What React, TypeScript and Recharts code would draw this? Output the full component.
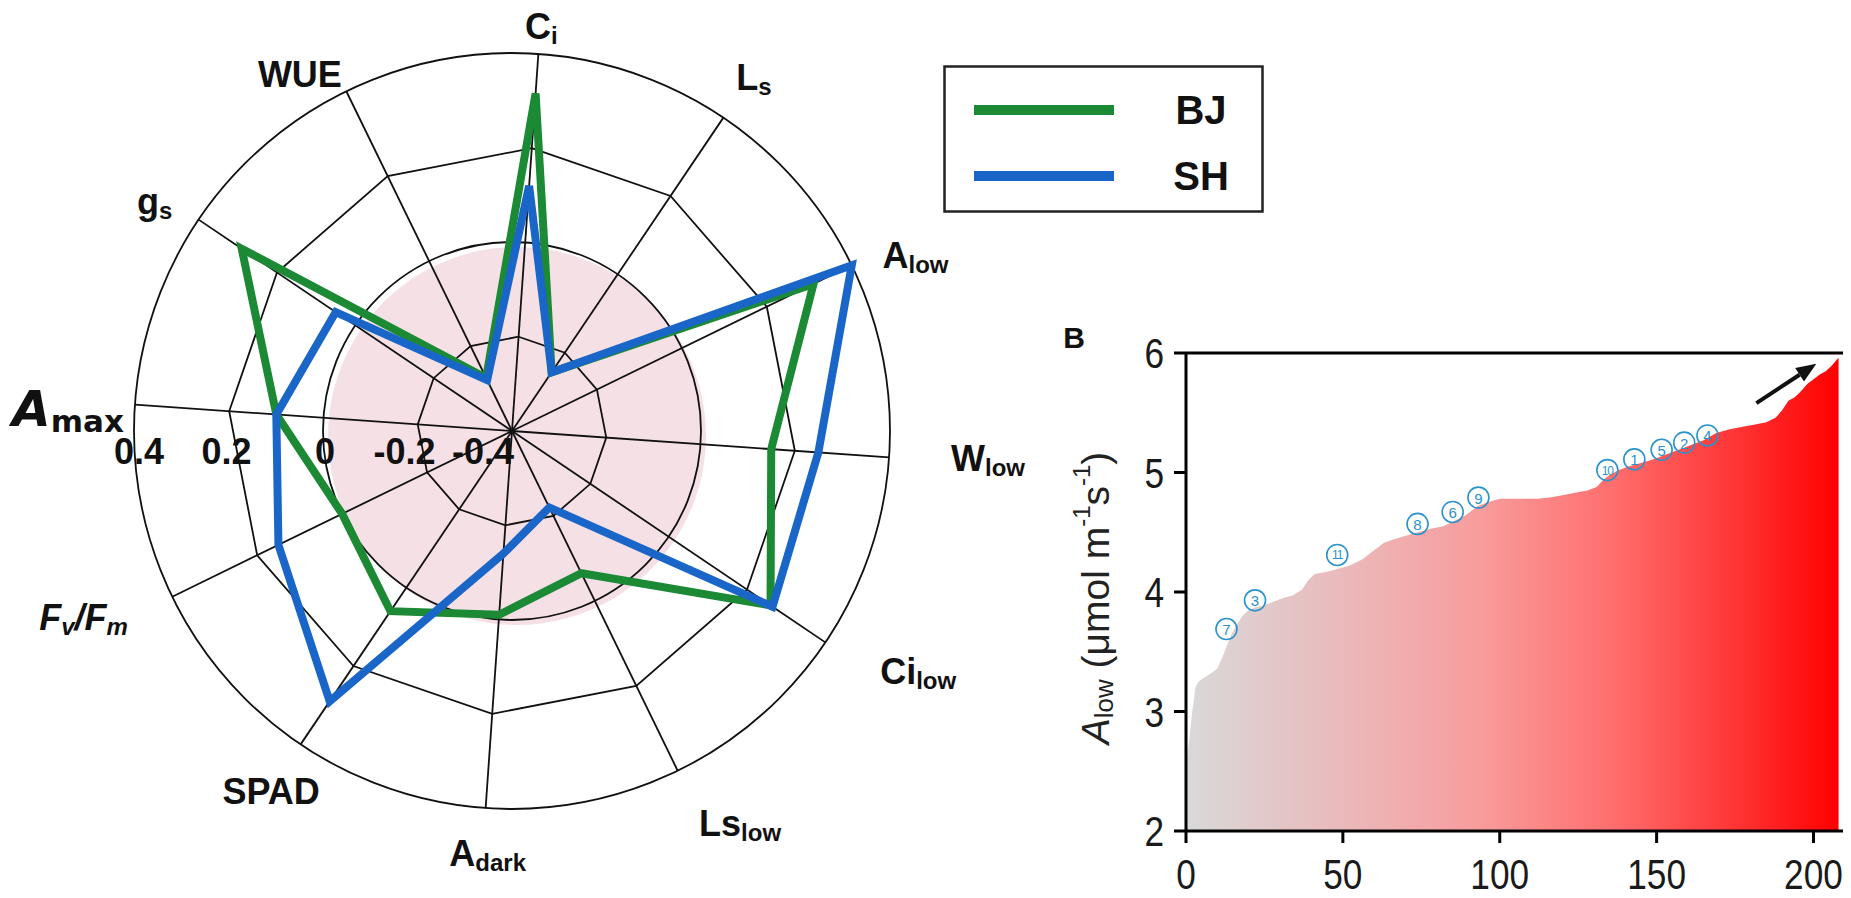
import React from 'react';
import {
  RadarChart, Radar, PolarGrid, PolarAngleAxis, PolarRadiusAxis, Legend,
  PieChart, Pie, ComposedChart, Area, Scatter, XAxis, YAxis, ReferenceLine,
} from 'recharts';

// ---------- Panel A data ----------
const categories = ['Ci', 'Ls', 'Alow', 'Wlow', 'Cilow', 'Lslow', 'Adark', 'SPAD', 'FvFm', 'Amax', 'gs', 'WUE'];
const bjValues = [0.316, -0.25, 0.31, 0.15, 0.26, -0.065, -0.01, 0.06, 0.0, 0.10, 0.29, -0.275];
const shValues = [0.12, -0.25, 0.40, 0.25, 0.265, -0.22, -0.14, 0.29, 0.15, 0.10, 0.05, -0.28];
const radiusTicks = [-0.4, -0.2, 0, 0.2, 0.4];
const polygonRings = [-0.2, 0.2];
const circleRings = [0, 0.4];
const pinkLevel = 0;

// ---------- Panel B data ----------
const rankX = [0, 1, 2, 3, 4, 5, 8, 10, 12, 14, 16, 18, 20, 22, 25, 28, 31, 34, 37, 39, 41, 45, 48, 52, 56, 60, 63, 66, 70, 74, 78, 82, 86, 89, 91, 93, 96, 100, 104, 108, 112, 116, 120, 124, 128, 131, 133, 135, 138, 141, 145, 149, 153, 157, 161, 165, 169, 173, 177, 181, 185, 188, 190, 192, 194, 196, 198, 200, 202, 204, 206, 207, 208];
const alowValues = [2.55, 2.75, 3.0, 3.2, 3.25, 3.27, 3.32, 3.36, 3.48, 3.62, 3.72, 3.8, 3.85, 3.87, 3.89, 3.92, 3.95, 3.97, 4.02, 4.1, 4.15, 4.17, 4.19, 4.22, 4.27, 4.35, 4.41, 4.44, 4.47, 4.5, 4.53, 4.55, 4.6, 4.64, 4.68, 4.72, 4.75, 4.78, 4.78, 4.78, 4.78, 4.79, 4.81, 4.83, 4.85, 4.88, 4.94, 4.98, 5.02, 5.05, 5.08, 5.11, 5.15, 5.19, 5.23, 5.27, 5.33, 5.36, 5.38, 5.4, 5.42, 5.46, 5.52, 5.6, 5.63, 5.68, 5.74, 5.78, 5.82, 5.85, 5.9, 5.93, 5.96];
const xTicks = [0, 50, 100, 150, 200];
const yTicks = [2, 3, 4, 5, 6];
const markerLabels = ['7', '3', '11', '8', '6', '9', '10', '1', '5', '2', '4'];
const markerX = [12.9, 22.0, 48.2, 73.8, 85.0, 93.2, 134.3, 142.9, 151.6, 158.8, 166.2];
const markerY = [3.69, 3.93, 4.31, 4.57, 4.67, 4.79, 5.02, 5.11, 5.19, 5.25, 5.31];
const arrowFrom = { x: 181.8, y: 5.58 };
const arrowTo = { x: 200.9, y: 5.91 };

// ---------- layout / style ----------
const SANS = '"Liberation Sans", Arial, Helvetica, sans-serif';
const DEJAVU = '"DejaVu Sans", Verdana, sans-serif';
const GREEN = '#1c8a34';
const BLUE = '#1a66c8';
const PINK = '#f5e0e6';
const CX = 512;
const CY = 431;
const R_OUT = 378;
const R_MIN = -0.4;
const R_MAX = 0.4;
const toR = (v: number) => (R_OUT * (v - R_MIN)) / (R_MAX - R_MIN);
const START = 86;
const LABEL_BASE_R = 420;
const labelNudge: Record<string, [number, number]> = {
  Ci: [0, 14], Ls: [7, -6], Alow: [26, 8], Wlow: [57, -2], Cilow: [58, 5], Lslow: [44, 15],
  Adark: [5, 3], SPAD: [-6, 12], FvFm: [-51, 2], Amax: [-25, 7], gs: [-9, 5], WUE: [-28, 20],
};
const tickShift: Record<string, number> = { '-0.4': -29, '-0.2': -13, '0': 2, '0.2': -2, '0.4': 5 };

const radarData = categories.map((c, i) => ({ axis: c, BJ: bjValues[i], SH: shValues[i] }));
const areaData = rankX.map((x, i) => ({ x, y: alowValues[i] }));
const markerData = markerX.map((x, i) => ({ x, y: markerY[i], label: markerLabels[i] }));

const SUB = 24;
function labelContent(cat: string) {
  const main = { fontSize: 36, fontWeight: 700 } as const;
  const sub = (k: string, t: string) => (
    <tspan key={k} fontSize={SUB} fontWeight={700} dy={9}>{t}</tspan>
  );
  switch (cat) {
    case 'Ci': return [<tspan key="a" {...main}>C</tspan>, sub('b', 'i')];
    case 'Ls': return [<tspan key="a" {...main}>L</tspan>, sub('b', 's')];
    case 'Alow': return [<tspan key="a" {...main}>A</tspan>, sub('b', 'low')];
    case 'Wlow': return [<tspan key="a" {...main}>W</tspan>, sub('b', 'low')];
    case 'Cilow': return [<tspan key="a" {...main}>Ci</tspan>, sub('b', 'low')];
    case 'Lslow': return [<tspan key="a" {...main}>Ls</tspan>, sub('b', 'low')];
    case 'Adark': return [<tspan key="a" {...main}>A</tspan>, sub('b', 'dark')];
    case 'SPAD': return [<tspan key="a" {...main}>SPAD</tspan>];
    case 'FvFm': return [
      <tspan key="a" fontSize={36} fontWeight={700} fontStyle="italic">F</tspan>,
      <tspan key="b" fontSize={SUB} fontStyle="italic" fontWeight={700} dy={9}>v</tspan>,
      <tspan key="c" fontSize={36} fontWeight={700} fontStyle="italic" dy={-9}>/F</tspan>,
      <tspan key="d" fontSize={SUB} fontStyle="italic" fontWeight={700} dy={9}>m</tspan>,
    ];
    case 'Amax': return [
      <tspan key="a" fontSize={50} fontWeight={700} fontStyle="italic" fontFamily={DEJAVU}>A</tspan>,
      <tspan key="b" fontSize={31} fontWeight={700} fontFamily={DEJAVU} dy={12}>max</tspan>,
    ];
    case 'gs': return [<tspan key="a" {...main}>g</tspan>, sub('b', 's')];
    case 'WUE': return [<tspan key="a" {...main}>WUE</tspan>];
    default: return [<tspan key="a" {...main}>{cat}</tspan>];
  }
}

const AngleTick = (props: any) => {
  const { payload, index } = props;
  const cat = payload.value as string;
  const a = ((START - 30 * index) * Math.PI) / 180;
  const nudge = labelNudge[cat] || [0, 0];
  const x = CX + Math.cos(a) * LABEL_BASE_R + nudge[0];
  const y = CY - Math.sin(a) * LABEL_BASE_R + nudge[1];
  return (
    <text x={x} y={y} textAnchor="middle" dominantBaseline="central" fill="#111" fontFamily={SANS}>
      {labelContent(cat)}
    </text>
  );
};

const RadiusTick = (props: any) => {
  const { x, y, payload } = props;
  const v = payload.value as number;
  const key = String(v);
  const shift = tickShift[key] || 0;
  return (
    <text x={x + shift} y={y + 20} textAnchor="middle" dominantBaseline="central"
      fontSize={36} fontWeight={700} fill="#111" fontFamily={SANS}>
      {v === 0 ? '0' : String(v)}
    </text>
  );
};

const LegendBox = (props: any) => {
  const payload = (props.payload || []) as any[];
  return (
    <svg width={322} height={149} style={{ display: 'block' }}>
      <rect x={1.5} y={1.5} width={318} height={145} fill="#fff" stroke="#222" strokeWidth={2.5} />
      {payload.map((p, i) => (
        <g key={i}>
          <line x1={31} x2={171} y1={45 + i * 66} y2={45 + i * 66} stroke={p.color} strokeWidth={10} />
          <text x={258} y={45 + i * 66} dominantBaseline="central" textAnchor="middle"
            fontSize={40} fontWeight={700} fontFamily={SANS} fill="#111">{p.value}</text>
        </g>
      ))}
    </svg>
  );
};

const XTick = (props: any) => {
  const { x, y, payload } = props;
  return (
    <text transform={`translate(${x},${y}) scale(0.84,1)`} textAnchor="middle" dy="0.71em"
      fontSize={42} fill="#1a1a1a" fontFamily={SANS}>{payload.value}</text>
  );
};

const YTick = (props: any) => {
  const { x, y, payload } = props;
  return (
    <text transform={`translate(${x},${y}) scale(0.84,1)`} textAnchor="end" dy="0.36em"
      fontSize={42} fill="#1a1a1a" fontFamily={SANS}>{payload.value}</text>
  );
};

const CircledShape = (props: any) => {
  const { cx, cy, payload } = props;
  const two = String(payload.label).length > 1;
  return (
    <g>
      <circle cx={cx} cy={cy} r={10.5} fill="none" stroke="#2a92cc" strokeWidth={1.6} />
      <text x={cx} y={cy + 0.5} textAnchor="middle" dominantBaseline="central"
        fontSize={two ? 12 : 15} letterSpacing={two ? -1 : 0} fill="#2a92cc" fontFamily={SANS}>
        {payload.label}
      </text>
    </g>
  );
};

const ArrowShape = (props: any) => {
  const { x1, y1, x2, y2 } = props;
  if (x1 == null) return null;
  const ang = Math.atan2(y2 - y1, x2 - x1);
  const L = 20;
  const W = 8;
  const bx = x2 - Math.cos(ang) * L;
  const by = y2 - Math.sin(ang) * L;
  const px = -Math.sin(ang) * W;
  const py = Math.cos(ang) * W;
  return (
    <g>
      <line x1={x1} y1={y1} x2={bx} y2={by} stroke="#111" strokeWidth={4} />
      <polygon points={`${x2},${y2} ${bx + px},${by + py} ${bx - px},${by - py}`} fill="#111" />
    </g>
  );
};

const YLabel = (props: any) => {
  const vb = props.viewBox || { x: 0, y: 0, width: 0, height: 0 };
  const lx = vb.x + 55;
  const ly = vb.y + vb.height / 2 + 6;
  return (
    <g>
      <text x={vb.x + 34} y={vb.y - 16} textAnchor="middle" dominantBaseline="central"
        fontSize={30} fontWeight={700} fontFamily={SANS} fill="#111">B</text>
      <text x={lx} y={ly} transform={`rotate(-90, ${lx}, ${ly})`} textAnchor="middle"
        dominantBaseline="central" fontSize={39} fontFamily={SANS} fill="#222">
        <tspan fontStyle="italic">A</tspan>
        <tspan fontSize={26} dy={9}>low</tspan>
        <tspan dy={-9}> (μmol m</tspan>
        <tspan fontSize={24} dy={-14}>-1</tspan>
        <tspan dy={14}>s</tspan>
        <tspan fontSize={24} dy={-14}>-1</tspan>
        <tspan dy={14}>)</tspan>
      </text>
    </g>
  );
};

export default function App() {
  const axisStroke = { stroke: '#000', strokeWidth: 3 };
  return (
    <div style={{ position: 'relative', width: 1851, height: 898, margin: -8, background: '#fff', overflow: 'hidden' }}>
      <div style={{ position: 'absolute', left: 0, top: 0 }}>
        <PieChart width={1040} height={898}>
          <Pie data={[{ name: 'zero', value: 1 }]} dataKey="value" cx={CX} cy={CY}
            innerRadius={0} outerRadius={toR(pinkLevel)} fill={PINK} stroke="none"
            isAnimationActive={false} />
        </PieChart>
      </div>
      <div style={{ position: 'absolute', left: 0, top: 0 }}>
        <RadarChart width={1040} height={898} data={radarData} cx={CX} cy={CY}
          outerRadius={R_OUT} startAngle={START} endAngle={START - 360}>
          <PolarGrid gridType="polygon" polarRadius={polygonRings.map(toR)} stroke="#111" strokeWidth={1.8} />
          <PolarGrid gridType="circle" polarRadius={circleRings.map(toR)} radialLines={false} stroke="#111" strokeWidth={1.8} />
          <PolarAngleAxis dataKey="axis" tick={AngleTick} axisLine={false} tickLine={false} />
          <PolarRadiusAxis angle={180} type="number" domain={[R_MIN, R_MAX]} ticks={radiusTicks}
            axisLine={false} tickLine={false} tick={RadiusTick} tickCount={5} />
          <Radar name="BJ" dataKey="BJ" stroke={GREEN} strokeWidth={8} fill="none" fillOpacity={0}
            dot={false} isAnimationActive={false} />
          <Radar name="SH" dataKey="SH" stroke={BLUE} strokeWidth={8} fill="none" fillOpacity={0}
            dot={false} isAnimationActive={false} />
          <Legend content={LegendBox}
            wrapperStyle={{ position: 'absolute', left: 943, top: 65, width: 322, height: 149 }} />
        </RadarChart>
      </div>
      <div style={{ position: 'absolute', left: 1040, top: 300 }}>
        <ComposedChart width={811} height={598} data={areaData}
          margin={{ top: 53, right: 3, bottom: 7, left: 0 }}>
          <defs>
            <linearGradient id="redGrad" x1="0" y1="0" x2="1" y2="0">
              <stop offset="0%" stopColor="#d9d9d9" />
              <stop offset="22%" stopColor="#e9bcbe" />
              <stop offset="45%" stopColor="#f89c9c" />
              <stop offset="65%" stopColor="#ff6f6f" />
              <stop offset="85%" stopColor="#ff3232" />
              <stop offset="100%" stopColor="#ff0000" />
            </linearGradient>
          </defs>
          <XAxis dataKey="x" type="number" domain={[0, 211]} ticks={xTicks} allowDataOverflow
            height={60} tickSize={12} tickMargin={16} axisLine={axisStroke} tickLine={axisStroke} tick={XTick} />
          <YAxis type="number" domain={[2, 6]} ticks={yTicks} allowDataOverflow width={146}
            tickSize={12} tickMargin={10} axisLine={axisStroke} tickLine={axisStroke} tick={YTick}
            label={{ content: YLabel }} />
          <Area dataKey="y" type="linear" stroke="none" fill="url(#redGrad)" fillOpacity={1}
            baseValue={2} isAnimationActive={false} />
          <ReferenceLine y={6} stroke="#000" strokeWidth={3} />
          <ReferenceLine x={211} stroke="#000" strokeWidth={3} />
          <ReferenceLine segment={[arrowFrom, arrowTo]} shape={ArrowShape} />
          <Scatter data={markerData} dataKey="y" shape={CircledShape} isAnimationActive={false} />
        </ComposedChart>
      </div>
    </div>
  );
}
